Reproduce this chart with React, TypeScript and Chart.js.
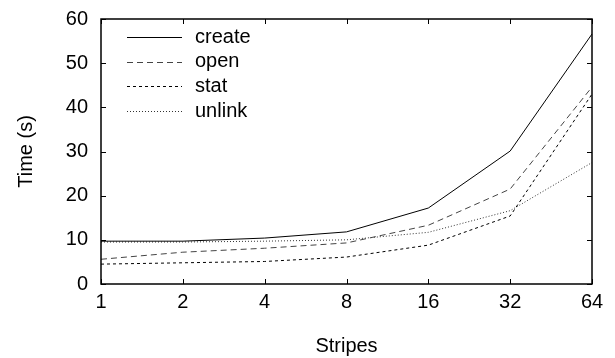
import React, { useEffect, useRef } from "react";
import { Chart, registerables } from "chart.js";
Chart.register(...registerables);

const categories = ["1", "2", "4", "8", "16", "32", "64"];
const createVals = [9.7, 9.7, 10.4, 11.8, 17.2, 30.1, 56.6];
const openVals = [5.6, 7.2, 8.1, 9.3, 13.3, 21.5, 44.6];
const statVals = [4.5, 4.8, 5.1, 6.1, 8.8, 15.4, 43.0];
const unlinkVals = [9.5, 9.5, 9.7, 10.0, 11.7, 16.6, 27.5];
const yTicks = [0, 10, 20, 30, 40, 50, 60];

const FONT = "'Liberation Sans', Arial, sans-serif";
const FS = 20;

const frame = {
  id: "frame",
  afterDatasetsDraw(chart: any) {
    const { ctx, chartArea: a, scales } = chart;
    ctx.save();
    ctx.strokeStyle = "#000";
    ctx.lineWidth = 1.5;
    ctx.strokeRect(a.left, a.top, a.right - a.left, a.bottom - a.top);
    ctx.lineWidth = 1;
    const tl = 5;
    ctx.beginPath();
    categories.forEach((_, i) => {
      const x = Math.round(scales.x.getPixelForValue(i)) + 0.5;
      ctx.moveTo(x, a.bottom);
      ctx.lineTo(x, a.bottom - tl);
      ctx.moveTo(x, a.top);
      ctx.lineTo(x, a.top + tl);
    });
    yTicks.forEach((v) => {
      const y = Math.round(scales.y.getPixelForValue(v)) + 0.5;
      ctx.moveTo(a.left, y);
      ctx.lineTo(a.left + tl, y);
      ctx.moveTo(a.right, y);
      ctx.lineTo(a.right - tl, y);
    });
    ctx.stroke();
    // legend
    ctx.font = FS + "px " + FONT;
    ctx.textBaseline = "middle";
    ctx.fillStyle = "#000";
    chart.data.datasets.forEach((ds: any, i: number) => {
      const y = a.top + 18 + i * 24.7;
      ctx.strokeStyle = ds.borderColor;
      ctx.lineWidth = 1;
      ctx.setLineDash(ds.borderDash || []);
      ctx.beginPath();
      ctx.moveTo(a.left + 26, Math.round(y) + 0.5);
      ctx.lineTo(a.left + 81, Math.round(y) + 0.5);
      ctx.stroke();
      ctx.setLineDash([]);
      ctx.fillText(ds.label, a.left + 94, y);
    });
    ctx.restore();
  },
};

export default function App() {
  const ref = useRef<HTMLCanvasElement>(null);
  useEffect(() => {
    document.body.style.margin = "0";
    const mk = (label: string, data: number[], color: string, dash: number[]) => ({
      label,
      data,
      borderColor: color,
      borderWidth: 1,
      borderDash: dash,
      pointRadius: 0,
      fill: false,
      tension: 0,
    });
    const chart = new Chart(ref.current!, {
      type: "line",
      data: {
        labels: categories,
        datasets: [
          mk("create", createVals, "#000", []),
          mk("open", openVals, "#444", [6, 4]),
          mk("stat", statVals, "#000", [3, 3]),
          mk("unlink", unlinkVals, "#333", [1, 2]),
        ],
      },
      plugins: [frame],
      options: {
        animation: false,
        responsive: false,
        layout: { padding: { top: 19, right: 23, left: 0, bottom: 0 } },
        plugins: { legend: { display: false }, tooltip: { enabled: false } },
        scales: {
          x: {
            offset: false,
            grid: { display: false, drawTicks: false },
            border: { display: false },
            ticks: { color: "#000", font: { size: FS, family: FONT }, padding: 6, maxRotation: 0 },
            title: { display: true, text: "Stripes", color: "#000", font: { size: FS, family: FONT }, padding: { top: 0, bottom: 0 } },
            afterFit: (s: any) => { s.height = 74; s.paddingLeft = 0; s.paddingRight = 0; },
          },
          y: {
            min: 0,
            max: 60,
            grid: { display: false, drawTicks: false },
            border: { display: false },
            ticks: { color: "#000", font: { size: FS, family: FONT }, padding: 13, stepSize: 10 },
            title: { display: true, text: "Time (s)", color: "#000", font: { size: FS, family: FONT }, padding: { top: 14, bottom: 0 } },
            afterFit: (s: any) => { s.width = 101; s.paddingTop = 0; s.paddingBottom = 0; },
          },
        },
      },
    } as any);
    return () => chart.destroy();
  }, []);
  return <canvas ref={ref} width={615} height={358} style={{ display: "block" }} />;
}
